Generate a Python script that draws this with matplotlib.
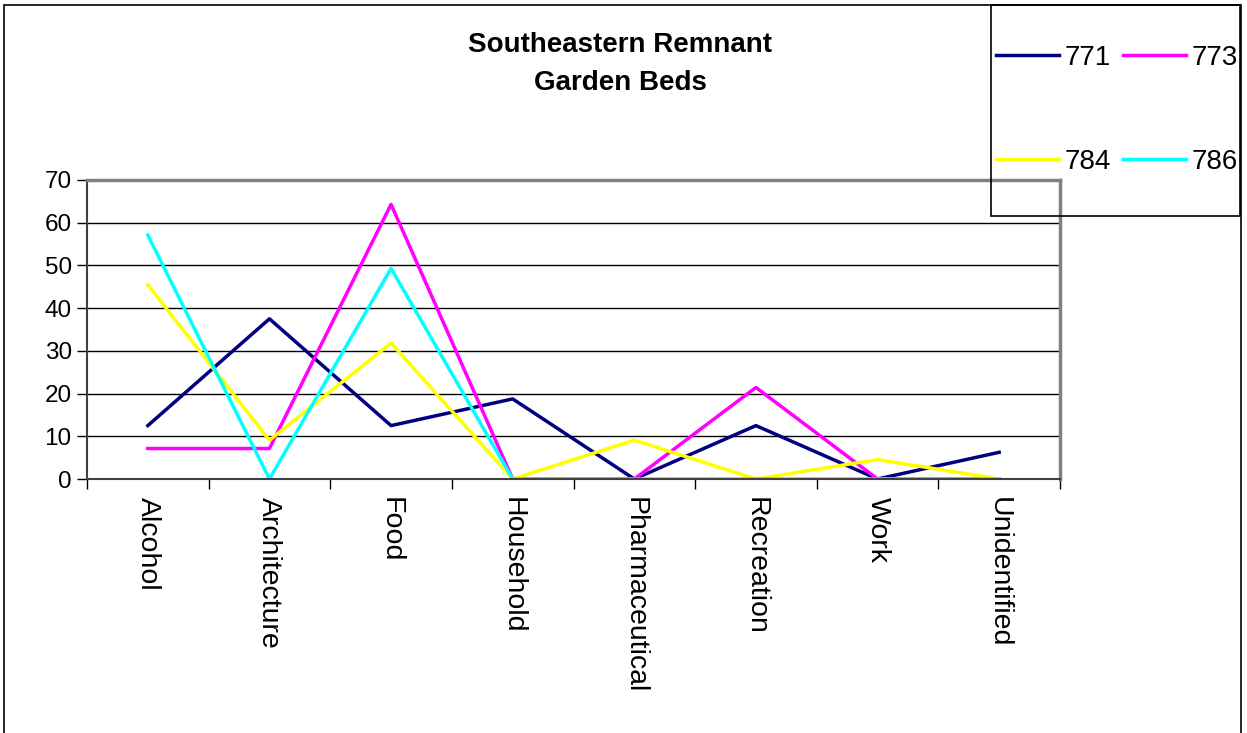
import numpy as np
import matplotlib
matplotlib.use('Agg')
import matplotlib.pyplot as plt
from matplotlib.patches import Rectangle

plt.rcParams['font.family'] = ['Liberation Sans', 'DejaVu Sans']

categories = ['Alcohol', 'Architecture', 'Food', 'Household', 'Pharmaceutical',
              'Recreation', 'Work', 'Unidentified']
s771 = [12.5, 37.5, 12.5, 18.75, 0, 12.5, 0, 6.25]
s773 = [7.14, 7.14, 64.29, 0, 0, 21.43, 0, 0]
s784 = [45.45, 9.09, 31.82, 0, 9.09, 0, 4.55, 0]
s786 = [57.1, 0, 49.3, 0, 0, 0, 0, 0]
series_names = ['771', '773', '784', '786']
colors = ['#000080', '#FF00FF', '#FFFF00', '#00FFFF']

W, H = 1247, 733
fig = plt.figure(figsize=(W / 100, H / 100), dpi=100)
ax = fig.add_axes([87 / W, 1 - 479 / H, 973 / W, 299 / H])

x = np.arange(len(categories))
lines = []
for vals, name, c in zip([s771, s773, s784, s786], series_names, colors):
    ln, = ax.plot(x, vals, color=c, lw=2.5, label=name)
    lines.append(ln)

ax.set_xlim(-0.5, len(categories) - 0.5)
ax.set_ylim(0, 70)
ax.set_yticks(np.arange(0, 71, 10))
ax.yaxis.grid(True, color='black', lw=1)
ax.set_axisbelow(True)

ax.set_xticks(np.arange(-0.5, len(categories), 1))
ax.set_xticklabels([])
ax.set_xticks(x, minor=True)
ax.set_xticklabels(categories, minor=True, rotation=270, fontsize=20.5,
                   va='top', ha='center')
ax.tick_params(axis='x', which='major', length=7, width=1, direction='out')
ax.tick_params(axis='x', which='minor', length=0, pad=13)
ax.tick_params(axis='y', length=7, width=1, labelsize=17.5, pad=4)

for s in ['top', 'right']:
    ax.spines[s].set_color('#808080')
    ax.spines[s].set_linewidth(2.5)
ax.spines['left'].set_color('#404040')
ax.spines['left'].set_linewidth(1.5)
ax.spines['bottom'].set_color('#404040')
ax.spines['bottom'].set_linewidth(1.5)

fig.text(620 / W, 1 - 64 / H, 'Southeastern Remnant\nGarden Beds', ha='center',
         va='center', fontsize=20, fontweight='bold', linespacing=1.55)

# outer chart border and legend box
fig.patches.append(Rectangle((4 / W, -0.01), 1237 / W, 1 - 5 / H + 0.01,
                             transform=fig.transFigure, fill=False,
                             edgecolor='black', lw=1.2))
fig.patches.append(Rectangle((991 / W, 1 - 216 / H), 249 / W, 211 / H,
                             transform=fig.transFigure, fill=False,
                             edgecolor='black', lw=1.2))

# legend fills column-wise, so reorder to get 771 773 / 784 786 in rows
order = [0, 2, 1, 3]
fig.legend(handles=[lines[i] for i in order], ncol=2, loc='center',
           bbox_to_anchor=(1117 / W, 1 - 110 / H), frameon=False, fontsize=20,
           handlelength=2.25, handletextpad=0.2, columnspacing=0.45,
           labelspacing=2.8, borderpad=0)

fig.savefig('out.png', dpi=100, facecolor='white')
